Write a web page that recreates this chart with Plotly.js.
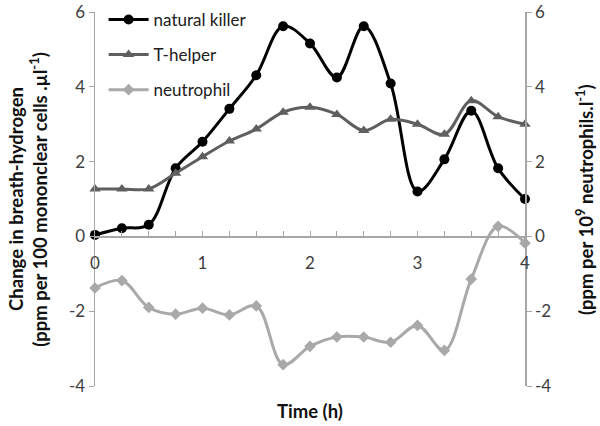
<!DOCTYPE html>
<html><head><meta charset="utf-8">
<script src="https://cdn.plot.ly/plotly-3.0.1.min.js"></script>
<style>body{margin:0;background:#fff}#chart{width:600px;height:426px}</style>
</head><body><div id="chart"></div>
<script>
const timeH = [0,0.25,0.5,0.75,1,1.25,1.5,1.75,2,2.25,2.5,2.75,3,3.25,3.5,3.75,4];
const naturalKiller = [0.04,0.22,0.31,1.82,2.53,3.41,4.31,5.62,5.16,4.25,5.62,4.09,1.2,2.06,3.36,1.82,1.0];
const tHelper = [1.27,1.27,1.27,1.69,2.13,2.55,2.87,3.32,3.45,3.26,2.83,3.13,3.0,2.73,3.63,3.2,3.0];
const neutrophil = [-1.38,-1.18,-1.9,-2.08,-1.92,-2.1,-1.86,-3.43,-2.94,-2.69,-2.69,-2.83,-2.38,-3.05,-1.14,0.27,-0.18];
const xTickVals = [0,1,2,3,4];
const xTickText = ['0','1','2','3','4'];
const yTickVals = [-4,-2,0,2,4,6];
const yTickText = ['-4','-2','0','2','4','6'];

const FONT = 'Lato, "Open Sans", sans-serif';
const traces = [
  {x: timeH, y: naturalKiller, name: 'natural killer', type: 'scatter', mode: 'lines+markers',
   line: {color: '#000000', width: 3, shape: 'spline', smoothing: 1},
   marker: {symbol: 'circle', size: 10, color: '#000000'}, cliponaxis: false, legendgroup: 'a'},
  {x: timeH, y: tHelper, name: 'T-helper', type: 'scatter', mode: 'lines+markers',
   line: {color: '#5f5f5f', width: 3, shape: 'spline', smoothing: 1},
   marker: {symbol: 'triangle-up', size: 10, color: '#5f5f5f'}, cliponaxis: false, legendgroup: 'b'},
  {x: timeH, y: neutrophil, name: 'neutrophil', type: 'scatter', mode: 'lines+markers', yaxis: 'y2',
   line: {color: '#a9a9a9', width: 3, shape: 'spline', smoothing: 1},
   marker: {symbol: 'diamond', size: 9, color: '#a9a9a9'}, cliponaxis: false, legendgroup: 'c'}
];

const titleFont = {family: FONT, size: 18.5, color: '#111111'};
const layout = {
  width: 600, height: 426,
  margin: {l: 95, r: 75, t: 12, b: 40, autoexpand: false},
  paper_bgcolor: '#fff', plot_bgcolor: 'rgba(0,0,0,0)',
  font: {family: FONT, color: '#404040', size: 16},
  showlegend: true,
  legend: {x: 0.02, y: 1.027, xanchor: 'left', yanchor: 'top', bgcolor: 'rgba(0,0,0,0)',
           itemwidth: 40,
           font: {family: FONT, size: 17, color: '#202020'}, traceorder: 'grouped', tracegroupgap: 10},
  xaxis: {range: [0, 4], anchor: 'free', position: 0.4, showgrid: false, zeroline: false,
          showline: true, linecolor: '#a6a6a6', linewidth: 1.5,
          tickvals: xTickVals, ticktext: xTickText, ticks: 'inside', ticklen: 5, tickcolor: '#a6a6a6',
          minor: {dtick: 0.25, ticks: 'inside', ticklen: 5, tickcolor: '#a6a6a6'},
          ticklabelstandoff: 11, tickfont: {size: 17, color: '#404040'}},
  yaxis: {range: [-4, 6], showgrid: false, zeroline: false, showline: true, linecolor: '#a6a6a6', linewidth: 1.5,
          tickvals: yTickVals, ticktext: yTickText, ticks: 'outside', ticklen: 5, tickcolor: '#a6a6a6',
          tickfont: {size: 17, color: '#404040'}},
  yaxis2: {range: [-4, 6], overlaying: 'y', side: 'right', showgrid: false, zeroline: false,
           showline: true, linecolor: '#a6a6a6', linewidth: 1.5,
           tickvals: yTickVals, ticktext: yTickText, ticks: 'outside', ticklen: 5, tickcolor: '#a6a6a6',
           tickfont: {size: 17, color: '#404040'}},
  annotations: [
    {text: '<b>Change in breath-hydrogen</b>', xref: 'paper', yref: 'paper', x: -0.184, y: 0.5,
     xanchor: 'center', yanchor: 'middle', textangle: -90, showarrow: false, font: titleFont},
    {text: '<b>(ppm per 100 mononclear cells .µl<sup>-1</sup>)</b>', xref: 'paper', yref: 'paper', x: -0.133, y: 0.5,
     xanchor: 'center', yanchor: 'middle', textangle: -90, showarrow: false, font: titleFont},
    {text: '<b>(ppm per 10<sup>9</sup> neutrophils.l<sup>-1</sup>)</b>', xref: 'paper', yref: 'paper', x: 1.137, y: 0.5,
     xanchor: 'center', yanchor: 'middle', textangle: -90, showarrow: false, font: titleFont},
    {text: '<b>Time (h)</b>', xref: 'paper', yref: 'paper', x: 0.500, y: -0.067,
     xanchor: 'center', yanchor: 'middle', showarrow: false, font: titleFont}
  ]
};
Plotly.newPlot('chart', traces, layout, {displayModeBar: false, staticPlot: true});
</script></body></html>
